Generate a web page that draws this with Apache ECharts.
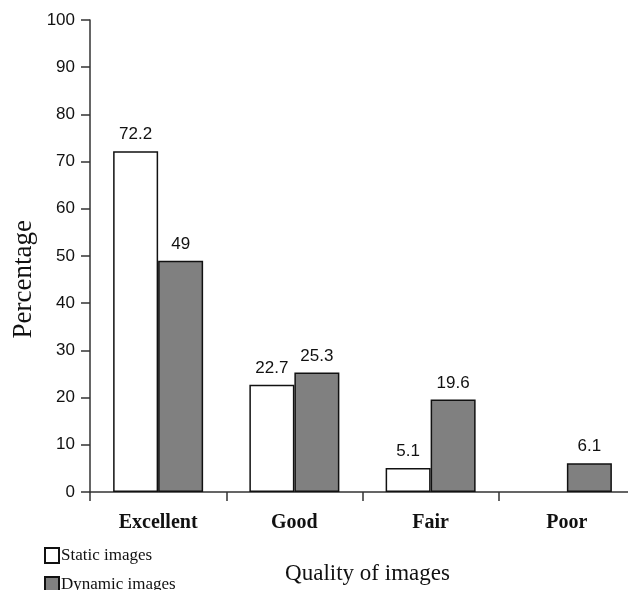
<!DOCTYPE html>
<html>
<head>
<meta charset="utf-8">
<script src="https://cdn.jsdelivr.net/npm/echarts@6/dist/echarts.min.js"></script>
<style>html,body{margin:0;padding:0;background:#fff}#c{width:628px;height:590px}</style>
</head>
<body>
<div id="c"></div>
<script>
var categories = ['Excellent', 'Good', 'Fair', 'Poor'];
var staticImages = [72.2, 22.7, 5.1, null];
var dynamicImages = [49, 25.3, 19.6, 6.1];
var yTicks = { min: 0, max: 100, interval: 10 };

var chart = echarts.init(document.getElementById('c'));
var labelStyle = {
  show: true, position: 'top', distance: 8,
  fontFamily: 'Liberation Sans, Arial, sans-serif', fontSize: 17, color: '#111'
};
chart.setOption({
  animation: false,
  backgroundColor: '#fff',
  grid: { left: 90, width: 545, top: 20, height: 472, containLabel: false, outerBoundsMode: 'none' },
  legend: {
    orient: 'vertical', left: 44, top: 547, width: 200, height: 60, padding: 0,
    itemWidth: 14, itemHeight: 15, itemGap: 12,
    icon: 'rect',
    textStyle: { fontFamily: 'Liberation Serif, Times New Roman, serif', fontSize: 17, color: '#111', padding: [0, 0, 0, -3] },
    data: ['Static images', 'Dynamic images']
  },
  xAxis: {
    type: 'category', data: categories,
    name: 'Quality of images', nameLocation: 'middle', nameGap: 70,
    nameTextStyle: { fontFamily: 'Liberation Serif, Times New Roman, serif', fontSize: 23, color: '#111', padding: [0, 0, 0, 10] },
    axisLine: { lineStyle: { color: '#333', width: 1.5 } },
    axisTick: { show: true, length: 9, lineStyle: { color: '#333', width: 1.5 } },
    axisLabel: { margin: 21, fontFamily: 'Liberation Serif, Times New Roman, serif', fontWeight: 'bold', fontSize: 20, color: '#111' }
  },
  yAxis: {
    type: 'value', min: yTicks.min, max: yTicks.max, interval: yTicks.interval,
    axisLine: { show: true, lineStyle: { color: '#333', width: 1.5 } },
    axisTick: { show: true, length: 9, lineStyle: { color: '#333', width: 1.5 } },
    splitLine: { show: false },
    axisLabel: { margin: 15, fontFamily: 'Liberation Sans, Arial, sans-serif', fontSize: 17, color: '#111' }
  },
  graphic: [{
    type: 'text', left: 10, top: 220, rotation: Math.PI / 2,
    style: { text: 'Percentage', font: '27px "Liberation Serif", "Times New Roman", serif', fill: '#111' }
  }],
  series: [{
    name: 'Static images', type: 'bar', data: staticImages, barWidth: 45, barGap: '0%',
    itemStyle: { color: '#ffffff', borderColor: '#111', borderWidth: 1.5 },
    label: labelStyle
  }, {
    name: 'Dynamic images', type: 'bar', data: dynamicImages, barWidth: 45,
    itemStyle: { color: '#808080', borderColor: '#111', borderWidth: 1.5 },
    label: labelStyle
  }]
});
</script>
</body>
</html>
